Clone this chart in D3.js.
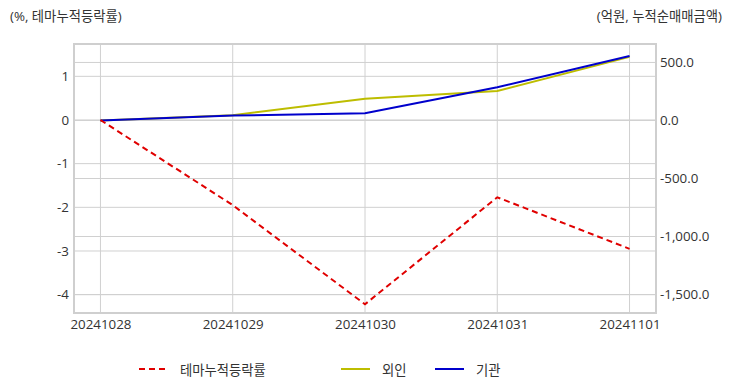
<!DOCTYPE html>
<html><head><meta charset="utf-8">
<script src="https://cdn.jsdelivr.net/npm/d3@7"></script>
<style>
body{margin:0;background:#fff;}
text{font-family:"Open Sans","Noto Sans CJK KR",sans-serif;}
</style></head>
<body><svg id="c" width="732" height="392"></svg>
<script>
const categories = ["20241028","20241029","20241030","20241031","20241101"];
const themeReturn = [0, -1.95, -4.22, -1.77, -2.95];
const foreign = [0, 46, 188, 254, 548];
const institution = [0, 42, 62, 286, 555];
const leftTicks = [1, 0, -1, -2, -3, -4];
const rightTicks = [500, 0, -500, -1000, -1500];
const seriesNames = ["테마누적등락률", "외인", "기관"];

const svg = d3.select("#c");
const L = 74, R = 656, T = 44, B = 313;
const FS = 13.33;
const KR = '"Noto Sans CJK KR","Noto Sans",sans-serif';
const NUM = '"Open Sans","Noto Sans",sans-serif';
const x = d3.scalePoint().domain(categories).range([L, R]).padding(0.2);
const yL = d3.scaleLinear().domain([-4.42, 1.74]).range([B, T]);
const yR = d3.scaleLinear().domain([-1659, 659]).range([B, T]);

const grid = svg.append("g");
leftTicks.forEach(v => grid.append("line").attr("x1", L).attr("x2", R).attr("y1", yL(v)).attr("y2", yL(v)).attr("stroke", "#d0d0d0").attr("stroke-width", 1));
rightTicks.forEach(v => grid.append("line").attr("x1", L).attr("x2", R).attr("y1", yR(v)).attr("y2", yR(v)).attr("stroke", "#d0d0d0").attr("stroke-width", 1));
categories.forEach(c => grid.append("line").attr("x1", x(c)).attr("x2", x(c)).attr("y1", T).attr("y2", B).attr("stroke", "#d0d0d0").attr("stroke-width", 1));
svg.append("rect").attr("x", L).attr("y", T).attr("width", R - L).attr("height", B - T).attr("fill", "none").attr("stroke", "#cfcfcf").attr("stroke-width", 2);

const hy = f => v => f(v).replace("\u2212", "-");
const axL = svg.append("g").attr("transform", `translate(${L - 5},0)`).call(d3.axisLeft(yL).tickValues(leftTicks).tickSize(0).tickPadding(0).tickFormat(hy(d3.format("d"))));
const axR = svg.append("g").attr("transform", `translate(${R + 4},0)`).call(d3.axisRight(yR).tickValues(rightTicks).tickSize(0).tickPadding(0).tickFormat(hy(d3.format(",.1f"))));
const axB = svg.append("g").attr("transform", `translate(0,${B + 2})`).call(d3.axisBottom(x).tickSize(0).tickPadding(5));
[axL, axR, axB].forEach(a => { a.select(".domain").remove(); a.selectAll("text").attr("font-size", FS).attr("fill", "#333").attr("font-family", NUM); });

const line = (ys) => d3.line().x((d, i) => x(categories[i])).y(d => ys(d));
svg.append("path").datum(foreign).attr("d", line(yR)).attr("fill", "none").attr("stroke", "#bdbd00").attr("stroke-width", 2);
svg.append("path").datum(institution).attr("d", line(yR)).attr("fill", "none").attr("stroke", "#0000cc").attr("stroke-width", 2);
svg.append("path").datum(themeReturn).attr("d", line(yL)).attr("fill", "none").attr("stroke", "#e00000").attr("stroke-width", 2).attr("stroke-dasharray", "6,4");

svg.append("text").attr("x", 10).attr("y", 21).attr("font-size", FS).attr("fill", "#333").attr("font-family", KR).text("(%, 테마누적등락률)");
svg.append("text").attr("x", 722).attr("y", 21).attr("text-anchor", "end").attr("font-size", FS).attr("fill", "#333").attr("font-family", KR).text("(억원, 누적순매매금액)");

const legend = [
  {name: seriesNames[0], color: "#e00000", dash: "6,4", x0: 139},
  {name: seriesNames[1], color: "#bdbd00", dash: null, x0: 341},
  {name: seriesNames[2], color: "#0000cc", dash: null, x0: 435}
];
legend.forEach(d => {
  svg.append("line").attr("x1", d.x0).attr("x2", d.x0 + 29).attr("y1", 369).attr("y2", 369).attr("stroke", d.color).attr("stroke-width", 2).attr("stroke-dasharray", d.dash);
  svg.append("text").attr("x", d.x0 + 41).attr("y", 375).attr("font-size", FS).attr("fill", "#333").attr("font-family", KR).text(d.name);
});
</script></body></html>
